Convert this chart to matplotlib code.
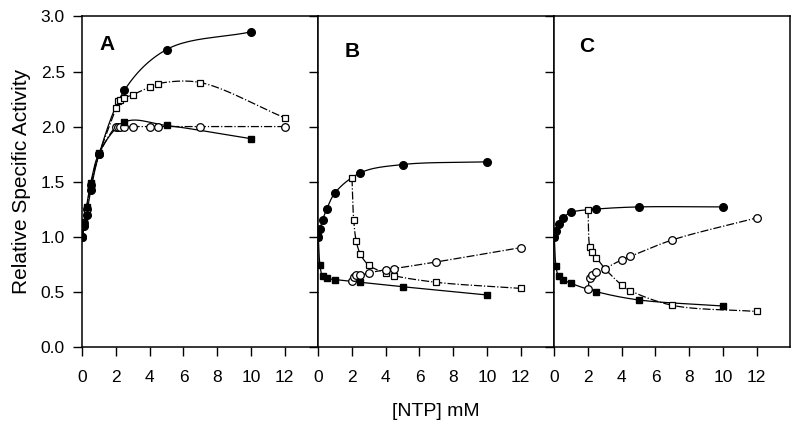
import matplotlib
matplotlib.use("Agg")
import matplotlib.pyplot as plt
import numpy as np

plt.rcParams['font.family'] = ['Liberation Sans', 'DejaVu Sans']

# ---- data ----
x_fill = [0, 0.1, 0.25, 0.5, 1, 2.5, 5, 10]
x_open_A = [0, 0.1, 0.25, 0.5, 1, 2, 2.1, 2.25, 2.5, 3, 4, 4.5, 7, 12]
x_open = [2, 2.1, 2.25, 2.5, 3, 4, 4.5, 7, 12]

# Panel A
A_fcirc = [1.0, 1.10, 1.20, 1.42, 1.75, 2.33, 2.70, 2.86]
A_fsq = [1.0, 1.13, 1.27, 1.49, 1.76, 2.04, 2.01, 1.89]
A_osq = [1.0, 1.12, 1.25, 1.47, 1.75, 2.17, 2.23, 2.24, 2.26, 2.29, 2.36, 2.39, 2.40, 2.08]
A_ocirc = [1.0, 1.12, 1.25, 1.47, 1.75, 2.0, 2.0, 2.0, 2.0, 2.0, 2.0, 2.0, 2.0, 2.0]

# Panel B
B_fcirc = [1.0, 1.07, 1.15, 1.25, 1.40, 1.58, 1.655, 1.68]
B_fsq = [1.0, 0.74, 0.64, 0.62, 0.61, 0.585, 0.545, 0.47]
B_osq = [1.53, 1.15, 0.96, 0.84, 0.74, 0.67, 0.645, 0.585, 0.53]
B_ocirc = [0.60, 0.636, 0.65, 0.65, 0.67, 0.70, 0.71, 0.77, 0.90]

# Panel C
C_fcirc = [1.0, 1.05, 1.115, 1.17, 1.22, 1.25, 1.27, 1.27]
C_fsq = [1.0, 0.73, 0.64, 0.61, 0.575, 0.50, 0.425, 0.37]
C_osq = [1.24, 0.91, 0.86, 0.81, 0.71, 0.56, 0.51, 0.376, 0.32]
C_ocirc = [0.52, 0.62, 0.65, 0.68, 0.71, 0.79, 0.82, 0.97, 1.17]

panel_labels = ['A', 'B', 'C']
xticks = [0, 2, 4, 6, 8, 10, 12]
yticks = [0.0, 0.5, 1.0, 1.5, 2.0, 2.5, 3.0]


def smooth(xs, ys, n=24):
    """Centripetal Catmull-Rom curve through the data points (drawing only)."""
    sx, sy = 1.0 / 14.0, 1.0 / 3.0
    P = np.column_stack([np.asarray(xs, float) * sx, np.asarray(ys, float) * sy])
    if len(P) < 3:
        return xs, ys
    P = np.vstack([2 * P[0] - P[1], P, 2 * P[-1] - P[-2]])
    out = [P[1]]
    for i in range(1, len(P) - 2):
        p0, p1, p2, p3 = P[i - 1], P[i], P[i + 1], P[i + 2]
        def tj(ti, a, b):
            return ti + max(np.linalg.norm(b - a), 1e-9) ** 0.5
        t0 = 0.0
        t1 = tj(t0, p0, p1)
        t2 = tj(t1, p1, p2)
        t3 = tj(t2, p2, p3)
        t = np.linspace(t1, t2, n)[1:, None]
        A1 = (t1 - t) / (t1 - t0) * p0 + (t - t0) / (t1 - t0) * p1
        A2 = (t2 - t) / (t2 - t1) * p1 + (t - t1) / (t2 - t1) * p2
        A3 = (t3 - t) / (t3 - t2) * p2 + (t - t2) / (t3 - t2) * p3
        B1 = (t2 - t) / (t2 - t0) * A1 + (t - t0) / (t2 - t0) * A2
        B2 = (t3 - t) / (t3 - t1) * A2 + (t - t1) / (t3 - t1) * A3
        C = (t2 - t) / (t2 - t1) * B1 + (t - t1) / (t2 - t1) * B2
        out.extend(C)
    out = np.array(out)
    return out[:, 0] / sx, out[:, 1] / sy


fig = plt.figure(figsize=(8, 4.3), dpi=100)
left0 = 82.3 / 800
pw = 236.0 / 800
bottom = 1 - 346.7 / 430
height = (346.7 - 16.5) / 430

panels = [
    (A_fcirc, A_fsq, x_open_A, A_osq, A_ocirc),
    (B_fcirc, B_fsq, x_open, B_osq, B_ocirc),
    (C_fcirc, C_fsq, x_open, C_osq, C_ocirc),
]
label_pos = [(0.103, 0.914), (0.1415, 0.893), (0.137, 0.909)]

for i, (fc, fs, xo, osq, oc) in enumerate(panels):
    ax = fig.add_axes([left0 + i * pw, bottom, pw, height])
    lw = 0.9
    # open series (dash-dot)
    for ys, mk in ((osq, 's'), (oc, 'o')):
        sxv, syv = smooth(xo, ys)
        ax.plot(sxv, syv, '-.', color='black', lw=lw, zorder=2)
        ax.plot(xo, ys, ls='none', marker=mk, ms=5.5 if mk == 'o' else 5,
                mfc='white', mec='black', mew=0.9, zorder=4)
    # filled series (solid)
    for ys, mk in ((fc, 'o'), (fs, 's')):
        sxv, syv = smooth(x_fill, ys)
        ax.plot(sxv, syv, '-', color='black', lw=lw, zorder=3)
        ax.plot(x_fill, ys, ls='none', marker=mk, ms=5.5 if mk == 'o' else 5,
                mfc='black', mec='black', zorder=5)
    ax.set_xlim(0, 14)
    ax.set_ylim(0, 3.0)
    ax.set_xticks(xticks)
    ax.set_xticklabels([str(t) for t in xticks], fontsize=12.5)
    ax.set_yticks(yticks)
    if i == 0:
        ax.set_yticklabels([f"{t:.1f}" for t in yticks], fontsize=12.5)
        ax.set_ylabel('Relative Specific Activity', fontsize=15, labelpad=7)
    else:
        ax.set_yticklabels([])
    ax.tick_params(direction='out', length=6.5, width=1.0)
    ax.tick_params(axis='x', pad=10)
    ax.tick_params(axis='y', pad=6)
    for s in ax.spines.values():
        s.set_linewidth(1.1)
    ax.text(label_pos[i][0], label_pos[i][1], panel_labels[i],
            transform=ax.transAxes, fontsize=15, fontweight='bold',
            ha='center', va='center')
    if i == 1:
        ax.set_xlabel('[NTP] mM', fontsize=14, labelpad=13)

fig.savefig('out.png', dpi=100)
